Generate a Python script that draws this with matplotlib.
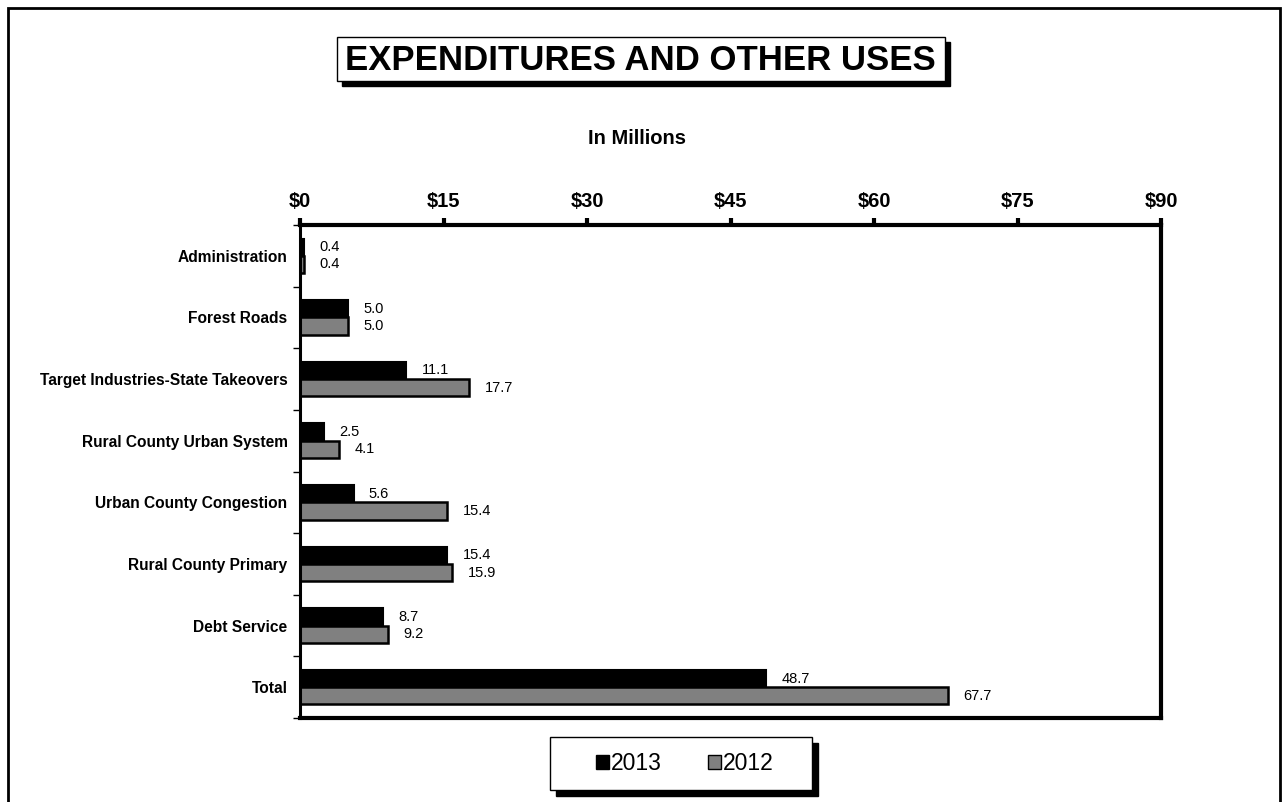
import matplotlib
matplotlib.use("Agg")
import matplotlib.pyplot as plt
from matplotlib.patches import Rectangle
from matplotlib.ticker import FixedLocator
import numpy as np

plt.rcParams['font.family'] = ['Liberation Sans', 'DejaVu Sans']

categories = ["Administration", "Forest Roads", "Target Industries-State Takeovers",
              "Rural County Urban System", "Urban County Congestion",
              "Rural County Primary", "Debt Service", "Total"]
fy2013 = [0.4, 5.0, 11.1, 2.5, 5.6, 15.4, 8.7, 48.7]
fy2012 = [0.4, 5.0, 17.7, 4.1, 15.4, 15.9, 9.2, 67.7]
xticks = [0, 15, 30, 45, 60, 75, 90]

fig = plt.figure(figsize=(12.82, 8.02), dpi=100)
W, H = 1282, 802


def box(x, y, w, h, shadow):
    # white box with a solid black drop shadow, in pixel coords from the top left
    fig.patches.append(Rectangle(((x + shadow) / W, 1 - (y + h + shadow) / H), w / W, h / H,
                                 transform=fig.transFigure, facecolor="black", edgecolor="black"))
    fig.patches.append(Rectangle((x / W, 1 - (y + h) / H), w / W, h / H,
                                 transform=fig.transFigure, facecolor="white", edgecolor="black",
                                 linewidth=1))


# outer frame
fig.patches.append(Rectangle((8 / W, -0.05), 1272 / W, 1.05 - 8 / H, transform=fig.transFigure,
                             fill=False, edgecolor="black", linewidth=2))

ax = fig.add_axes([300 / W, 1 - 718 / H, 861 / W, 493 / H])

y = np.arange(len(categories))
h = 0.28
ax.barh(y - h / 2, fy2013, height=h, color="black", edgecolor="black", linewidth=1.5, label="2013")
ax.barh(y + h / 2, fy2012, height=h, color="#808080", edgecolor="black", linewidth=1.8, label="2012")

for yi, v in zip(y, fy2013):
    ax.annotate(f"{v:.1f}", (v, yi - h / 2), xytext=(11, 0), textcoords="offset points",
                va="center", ha="left", fontsize=10.5)
for yi, v in zip(y, fy2012):
    ax.annotate(f"{v:.1f}", (v, yi + h / 2), xytext=(11, 0), textcoords="offset points",
                va="center", ha="left", fontsize=10.5)

ax.set_xlim(0, 90)
ax.set_ylim(len(categories) - 0.5, -0.5)

ax.xaxis.tick_top()
ax.set_xticks(xticks)
ax.set_xticklabels([f"${t}" for t in xticks], fontsize=14.5, fontweight="bold")
ax.tick_params(axis="x", direction="out", length=5, width=3, pad=5)

ax.set_yticks(y)
ax.set_yticklabels(categories, fontsize=11.2, fontweight="bold")
ax.tick_params(axis="y", which="major", length=0, pad=9)
ax.yaxis.set_minor_locator(FixedLocator(np.arange(-0.5, len(categories), 1.0)))
ax.tick_params(axis="y", which="minor", direction="out", length=5, width=1)

for side in ["top", "right", "bottom"]:
    ax.spines[side].set_linewidth(3)
ax.spines["left"].set_linewidth(2.2)

# title box
box(337, 37, 608, 44, 5)
fig.text(640 / W, 1 - 60 / H, "EXPENDITURES AND OTHER USES", ha="center", va="center",
         fontsize=25, fontweight="bold")

fig.text(637 / W, 1 - 138 / H, "In Millions", ha="center", va="center", fontsize=14.5,
         fontweight="bold")

# legend box
box(550, 737, 262, 53, 6)
leg = fig.legend(loc="center", bbox_to_anchor=(685 / W, 1 - 764 / H), ncol=2, fontsize=16.5,
                 frameon=False, handlelength=0.55, handleheight=0.55,
                 handletextpad=0.1, columnspacing=2.0)
for p in leg.legend_handles:
    p.set_linewidth(1)

fig.savefig("out.png", dpi=100)
